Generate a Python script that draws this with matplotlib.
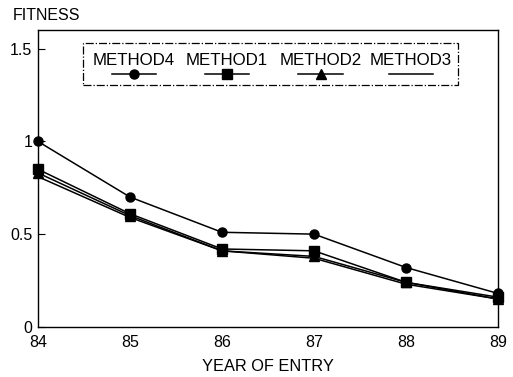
import matplotlib.pyplot as plt
from matplotlib.lines import Line2D
from matplotlib.patches import Rectangle

plt.rcParams["font.family"] = ["Liberation Sans", "DejaVu Sans"]

# ----------------------------------------------------------------------
# Data
# ----------------------------------------------------------------------
years = [84, 85, 86, 87, 88, 89]
method4 = [1.00, 0.70, 0.51, 0.50, 0.32, 0.18]
method1 = [0.85, 0.61, 0.42, 0.41, 0.24, 0.16]
method2 = [0.83, 0.60, 0.41, 0.38, 0.24, 0.15]
method3 = [0.81, 0.59, 0.41, 0.37, 0.23, 0.15]

series = [
    ("METHOD4", method4, "o"),
    ("METHOD1", method1, "s"),
    ("METHOD2", method2, "^"),
    ("METHOD3", method3, None),
]

# ----------------------------------------------------------------------
# Plot
# ----------------------------------------------------------------------
fig = plt.figure(figsize=(5.13, 3.77), dpi=100)
ax = fig.add_axes([0.074, 0.133, 0.897, 0.787])

for name, vals, mk in series:
    ax.plot(years, vals, color="black", lw=1.1, marker=mk, ms=6.5,
            clip_on=False, zorder=3)

ax.set_xlim(84, 89)
ax.set_ylim(0, 1.6)
ax.set_xticks(years)
ax.set_yticks([0, 0.5, 1, 1.5])
ax.set_yticklabels(["0", "0.5", "1", "1.5"])
ax.tick_params(axis="y", direction="in", length=5, labelsize=11.5, pad=4)
ax.tick_params(axis="x", length=0, labelsize=11.5, pad=6)
for sp in ax.spines.values():
    sp.set_linewidth(1.0)

ax.set_xlabel("YEAR OF ENTRY", fontsize=11.8, labelpad=6)
fig.text(0.025, 0.958, "FITNESS", fontsize=11.5, ha="left", va="center")

# legend box with labels above line samples
ax.add_patch(Rectangle((0.098, 0.815), 0.815, 0.141, transform=ax.transAxes,
                       fill=False, lw=0.9, ls="-.", color="black"))
label_x = [0.208, 0.41, 0.614, 0.81]
for (name, vals, mk), lx in zip(series, label_x):
    ax.text(lx, 0.897, name, transform=ax.transAxes, ha="center",
            va="center", fontsize=12.2)
    ax.add_line(Line2D([lx - 0.048, lx + 0.048], [0.853, 0.853],
                       transform=ax.transAxes, color="black", lw=1.1))
    if mk:
        ax.add_line(Line2D([lx], [0.853], transform=ax.transAxes,
                           marker=mk, ms=6.5, color="black", ls="none"))

fig.savefig("out.png", dpi=100)
